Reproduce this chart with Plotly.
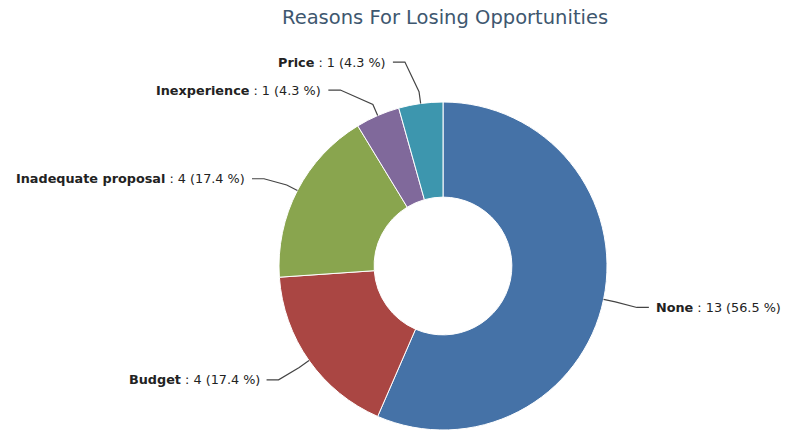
import math
import plotly.graph_objects as go

# Loss reasons and counts
reasons = ["None", "Budget", "Inadequate proposal", "Inexperience", "Price"]
counts = [13, 4, 4, 1, 1]
colors = ["#4572A7", "#AA4643", "#89A54E", "#80699B", "#3D96AE"]
title_text = "Reasons For Losing Opportunities"

W, H = 802, 432
CX, CY, R = 443, 266, 164          # donut centre and outer radius (px)
HOLE = 0.42
LABEL_DIST = 30                    # natural label distance beyond the rim
LABEL_R = 210                      # radius of the circle the labels sit on
MIN_GAP = 28                       # minimum vertical spacing between labels
LABEL_DROP = 2                     # small downward nudge of the label row


def px(x):
    return x / W


def py(y):
    return 1 - y / H


fig = go.Figure(go.Pie(
    labels=reasons,
    values=counts,
    sort=False,
    direction="clockwise",
    rotation=0,
    hole=HOLE,
    marker=dict(colors=colors, line=dict(color="white", width=1)),
    textinfo="none",
    hoverinfo="label+value+percent",
    showlegend=False,
    domain=dict(x=[px(CX - R), px(CX + R)], y=[py(CY + R), py(CY - R)]),
))

# Data-label geometry: mid angle of each slice, clockwise from 12 o'clock
total = sum(counts)
labels = []
cum = 0
for name, v in zip(reasons, counts):
    mid = (cum + v / 2) / total * 2 * math.pi
    cum += v
    s, c = math.sin(mid), math.cos(mid)
    side = 1 if s >= 0 else -1
    y_nat = CY - (R + LABEL_DIST) * c + LABEL_DROP
    labels.append(dict(name=name, v=v, s=s, c=c, side=side, y=y_nat))

# keep labels on each side from overlapping (push upward)
for side in (1, -1):
    group = sorted([l for l in labels if l["side"] == side], key=lambda l: -l["y"])
    for a, b in zip(group, group[1:]):
        if a["y"] - b["y"] < MIN_GAP:
            b["y"] = a["y"] - MIN_GAP

shapes = []
annotations = []
for l in labels:
    dy = l["y"] - CY
    dx = math.sqrt(max(LABEL_R ** 2 - dy ** 2, 0))
    lx = CX + l["side"] * dx
    edge = (CX + R * l["s"], CY - R * l["c"])
    knee = (CX + (R + 12) * l["s"], CY - (R + 12) * l["c"])
    elbow = (lx - l["side"] * 12, l["y"])
    path = "M {} {} L {} {} L {} {} L {} {}".format(
        px(lx), py(l["y"]), px(elbow[0]), py(elbow[1]),
        px(knee[0]), py(knee[1]), px(edge[0]), py(edge[1]))
    shapes.append(dict(type="path", path=path, xref="paper", yref="paper",
                       line=dict(color="#444444", width=1.2)))
    pct = round(l["v"] / total * 100, 1)
    annotations.append(dict(
        x=px(lx + l["side"] * 5), y=py(l["y"]), xref="paper", yref="paper",
        text="<b>{}</b> : {} ({} %)".format(l["name"], l["v"], pct),
        showarrow=False,
        xanchor="left" if l["side"] > 0 else "right", yanchor="middle",
        font=dict(family="DejaVu Sans", size=12.8, color="#222222"),
    ))

annotations.append(dict(
    x=px(CX + 2), y=py(18), xref="paper", yref="paper", text=title_text,
    showarrow=False, xanchor="center", yanchor="middle",
    font=dict(family="DejaVu Sans", size=19.5, color="#3E576F"),
))

fig.update_layout(
    width=W, height=H,
    margin=dict(l=0, r=0, t=0, b=0),
    paper_bgcolor="white", plot_bgcolor="white",
    shapes=shapes, annotations=annotations,
)

fig.write_html("out.html")
